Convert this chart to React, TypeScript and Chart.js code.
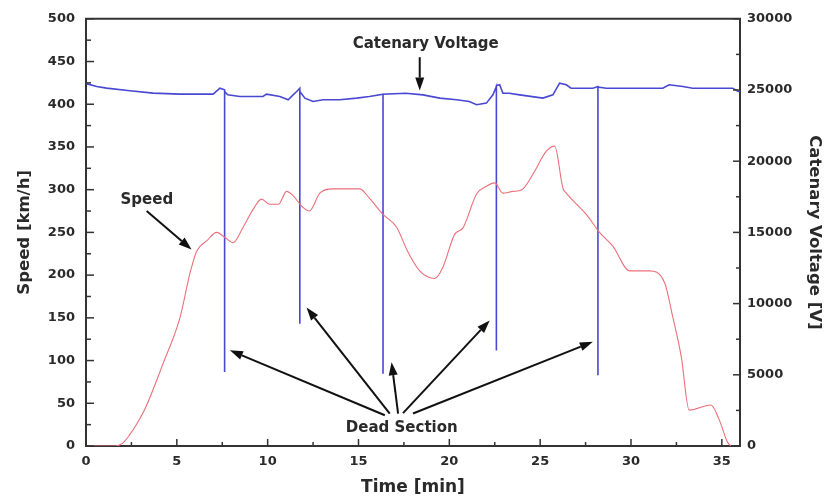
import React, { useEffect, useRef } from 'react';
import { Chart, registerables } from 'chart.js';

Chart.register(...registerables);

// ---- data ----
const timeTicks = [0, 5, 10, 15, 20, 25, 30, 35];
const speedTicks = [0, 50, 100, 150, 200, 250, 300, 350, 400, 450, 500];
const voltageTicks = [0, 5000, 10000, 15000, 20000, 25000, 30000];

const speedTime = [0, 1.6, 2.0, 2.4, 2.8, 3.3, 4.25, 5.17, 5.72, 6.09, 6.64, 7.19, 7.65, 8.1, 8.65, 9.2, 9.66, 10.1, 10.6, 11.04, 11.4, 11.86, 12.3, 12.87, 13.6, 14.34, 15.07, 15.6, 16.35, 17.1, 17.7, 18.37, 19.2, 19.64, 20.3, 20.74, 21.5, 22.04, 22.5, 22.95, 23.5, 24.0, 24.6, 25.34, 25.8, 26.25, 26.44, 27.54, 28.27, 29.0, 29.92, 31.0, 31.85, 32.3, 32.77, 33.2, 34.4, 34.87, 35.3, 35.5];
const speedValues = [0, 0, 3, 13, 26, 46, 97, 150, 202, 228, 240, 250, 244, 238, 256, 277, 289, 283, 283, 298, 293, 281, 275, 296, 301, 301, 301, 290, 271, 256, 228, 205, 196, 209, 248, 255, 295, 304, 308, 296, 298, 300, 318, 345, 351, 302, 296, 271, 250, 234, 205, 205, 191, 151, 104, 42, 48, 30, 5, 0];

const voltageTime = [0, 0.59, 1.13, 2.42, 3.69, 5.17, 7.0, 7.37, 7.63, 7.63, 7.63, 7.8, 8.47, 9.74, 9.94, 10.67, 11.13, 11.4, 11.6, 11.77, 11.77, 11.77, 12.05, 12.5, 13.05, 13.97, 14.9, 15.6, 16.35, 16.35, 16.35, 17.6, 18.55, 19.47, 20.4, 21.1, 21.5, 22.04, 22.4, 22.59, 22.59, 22.59, 22.77, 22.95, 23.3, 23.87, 25.15, 25.7, 26.07, 26.44, 26.7, 27.9, 28.18, 28.18, 28.18, 28.64, 31.75, 32.1, 32.85, 33.4, 35.6, 35.9, 36];
const voltageValues = [25450, 25245, 25130, 24950, 24780, 24710, 24710, 25130, 25010, 5200, 24900, 24660, 24545, 24545, 24706, 24545, 24315, 24660, 24895, 25128, 8580, 24900, 24430, 24196, 24315, 24315, 24430, 24545, 24706, 5080, 24706, 24776, 24660, 24430, 24315, 24196, 23965, 24078, 24660, 25250, 6710, 25300, 25363, 24776, 24776, 24660, 24430, 24660, 25476, 25363, 25128, 25128, 25245, 4965, 25200, 25128, 25128, 25363, 25245, 25128, 25128, 24895, 24895];

// ---- annotations (in data units: time, speed axis) ----
const labelNotes = [
  { text: 'Catenary Voltage', t: 18.7, s: 470 },
  { text: 'Speed', t: 3.35, s: 288 },
  { text: 'Dead Section', t: 17.38, s: 21 },
];
const arrowNotes = [
  { from: [18.37, 455], to: [18.37, 416] },
  { from: [3.34, 275], to: [5.81, 230] },
  { from: [16.45, 36], to: [7.92, 112] },
  { from: [16.72, 38], to: [12.14, 162] },
  { from: [17.18, 38], to: [16.82, 98] },
  { from: [17.45, 38.5], to: [22.22, 147] },
  { from: [18.0, 38], to: [27.9, 122] },
];

const FONT = '"DejaVu Sans", Arial, sans-serif';
const TEXT = '#2a2a2a';
const AXIS = '#333';

const decorPlugin = {
  id: 'decor',
  afterDraw(chart: any) {
    const { ctx, chartArea: ca, scales } = chart;
    const x = scales.x, y = scales.y, y2 = scales.y2;
    ctx.save();
    ctx.strokeStyle = AXIS;
    ctx.lineWidth = 2;
    ctx.beginPath();
    ctx.moveTo(ca.left - 1, ca.top);
    ctx.lineTo(ca.right + 1, ca.top);
    ctx.stroke();

    ctx.lineWidth = 1.5;
    const seg = (x1: number, y1: number, x2: number, y2_: number) => {
      ctx.beginPath();
      ctx.moveTo(x1, y1);
      ctx.lineTo(x2, y2_);
      ctx.stroke();
    };
    // x ticks (inward)
    for (let v = timeTicks[0]; v <= timeTicks[timeTicks.length - 1] + 0.01; v += 2.5) {
      const px = x.getPixelForValue(v);
      const len = Math.abs(v % 5) < 1e-6 ? 7 : 4;
      seg(px, ca.bottom, px, ca.bottom - len);
    }
    // left y ticks
    for (let v = 0; v <= 500; v += 25) {
      const py = y.getPixelForValue(v);
      const len = v % 50 === 0 ? 8 : 5;
      seg(ca.left, py, ca.left + len, py);
    }
    // right y ticks
    for (let v = 0; v <= 30000; v += 2500) {
      const py = y2.getPixelForValue(v);
      const len = v % 5000 === 0 ? 7 : 4;
      seg(ca.right, py, ca.right - len, py);
    }

    // annotation labels
    ctx.fillStyle = TEXT;
    ctx.font = `bold 15px ${FONT}`;
    ctx.textAlign = 'center';
    ctx.textBaseline = 'middle';
    for (const n of labelNotes) {
      ctx.fillText(n.text, x.getPixelForValue(n.t), y.getPixelForValue(n.s));
    }

    // arrows
    ctx.strokeStyle = '#111';
    ctx.fillStyle = '#111';
    ctx.lineWidth = 2;
    for (const a of arrowNotes) {
      const x1 = x.getPixelForValue(a.from[0]);
      const y1 = y.getPixelForValue(a.from[1]);
      const x2 = x.getPixelForValue(a.to[0]);
      const y2p = y.getPixelForValue(a.to[1]);
      const ang = Math.atan2(y2p - y1, x2 - x1);
      const headLen = 13, headW = 4.5;
      const bx = x2 - headLen * Math.cos(ang);
      const by = y2p - headLen * Math.sin(ang);
      seg(x1, y1, bx, by);
      ctx.beginPath();
      ctx.moveTo(x2, y2p);
      ctx.lineTo(bx + headW * Math.sin(ang), by - headW * Math.cos(ang));
      ctx.lineTo(bx - headW * Math.sin(ang), by + headW * Math.cos(ang));
      ctx.closePath();
      ctx.fill();
    }
    ctx.restore();
  },
};

export default function App() {
  const ref = useRef<HTMLCanvasElement | null>(null);

  useEffect(() => {
    document.body.style.margin = '0';
    const canvas = ref.current;
    if (!canvas) return;
    const tickFont = { family: FONT, size: 13, weight: 'bold' as const };
    const plain = (v: any) => String(v);
    const chart = new Chart(canvas, {
      type: 'line',
      data: {
        datasets: [
          {
            label: 'Speed',
            data: speedTime.map((t, i) => ({ x: t, y: speedValues[i] })),
            yAxisID: 'y',
            borderColor: 'rgb(236,112,122)',
            borderWidth: 1.1,
            pointRadius: 0,
            cubicInterpolationMode: 'monotone',
          },
          {
            label: 'Catenary Voltage',
            data: voltageTime.map((t, i) => ({ x: t, y: voltageValues[i] })),
            yAxisID: 'y2',
            borderColor: 'rgb(72,72,210)',
            borderWidth: 1.6,
            pointRadius: 0,
            tension: 0,
          },
        ],
      },
      options: {
        responsive: false,
        animation: false,
        layout: { padding: { top: 17, left: 0, right: 0, bottom: 0 } },
        plugins: { legend: { display: false }, tooltip: { enabled: false } },
        scales: {
          x: {
            type: 'linear',
            position: 'bottom',
            min: 0,
            max: 36,
            afterFit: (s: any) => { s.height = 54; },
            afterBuildTicks: (s: any) => { s.ticks = timeTicks.map((v) => ({ value: v })); },
            grid: { display: false, drawTicks: false },
            border: { display: true, color: AXIS, width: 2 },
            ticks: { padding: 8, font: tickFont, color: TEXT, maxRotation: 0, callback: plain },
            title: { display: true, text: 'Time [min]', color: TEXT, font: { family: FONT, size: 17, weight: 'bold' }, padding: { top: 0, bottom: 2 } },
          },
          y: {
            type: 'linear',
            position: 'left',
            min: 0,
            max: 500,
            afterFit: (s: any) => { s.width = 86; },
            afterBuildTicks: (s: any) => { s.ticks = speedTicks.map((v) => ({ value: v })); },
            grid: { display: false, drawTicks: false },
            border: { display: true, color: AXIS, width: 2 },
            ticks: { padding: 11, font: tickFont, color: TEXT, callback: plain },
            title: { display: true, text: 'Speed [km/h]', color: TEXT, font: { family: FONT, size: 16.5, weight: 'bold' }, padding: { top: 15, bottom: 0 } },
          },
          y2: {
            type: 'linear',
            position: 'right',
            min: 0,
            max: 30000,
            afterFit: (s: any) => { s.width = 88; },
            afterBuildTicks: (s: any) => { s.ticks = voltageTicks.map((v) => ({ value: v })); },
            grid: { display: false, drawTicks: false },
            border: { display: true, color: AXIS, width: 2 },
            ticks: { padding: 7, font: tickFont, color: TEXT, callback: plain },
            title: { display: true, text: 'Catenary Voltage [V]', color: TEXT, font: { family: FONT, size: 16.5, weight: 'bold' }, padding: { top: 4, bottom: 0 } },
          },
        },
      },
      plugins: [decorPlugin],
    } as any);
    return () => chart.destroy();
  }, []);

  return (
    <div style={{ width: 828, height: 500, background: '#fff' }}>
      <canvas ref={ref} width={828} height={500} style={{ display: 'block' }} />
    </div>
  );
}
